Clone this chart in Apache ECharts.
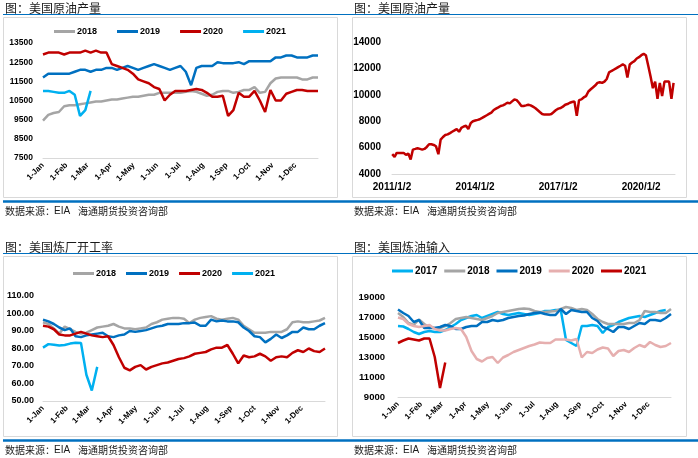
<!DOCTYPE html>
<html>
<head>
<meta charset="utf-8">
<script src="https://cdn.jsdelivr.net/npm/echarts@6/dist/echarts.min.js"></script>
<style>
html, body { margin: 0; padding: 0; background: #fff; width: 698px; height: 458px; overflow: hidden; }
.p { position: absolute; width: 349px; height: 219px; }
</style>
</head>
<body>
<div id="c1" class="p" style="left:0;top:0"></div>
<div id="c2" class="p" style="left:349px;top:0"></div>
<div id="c3" class="p" style="left:0;top:239px"></div>
<div id="c4" class="p" style="left:349px;top:239px"></div>
<script>
'use strict';

// x axis of the weekly charts: day of year
const monthDays = [0, 31, 59, 90, 120, 151, 181, 212, 243, 273, 304, 334];
const monthLabels = ['1-Jan', '1-Feb', '1-Mar', '1-Apr', '1-May', '1-Jun', '1-Jul', '1-Aug', '1-Sep', '1-Oct', '1-Nov', '1-Dec'];

// 美国原油产量 weekly (kb/d)
const prod2018 = [9450, 9750, 9850, 9900, 10200, 10250, 10250, 10300, 10350, 10400,
  10450, 10450, 10500, 10550, 10550, 10600, 10650, 10700, 10700, 10750,
  10800, 10800, 10900, 10900, 10900, 10900, 10900, 10950, 11000, 10950,
  10850, 10750, 10800, 10950, 11000, 11000, 10900, 10950, 11050, 11050,
  11200, 10900, 10950, 11400, 11650, 11700, 11700, 11700, 11700, 11600,
  11600, 11700, 11700];
const prod2019 = [11700, 11900, 11900, 11900, 11900, 11900, 12000, 12100, 12100, 12000,
  12100, 12100, 12200, 12200, 12100, 12200, 12300, 12200, 12100, 12200,
  12300, 12400, 12300, 12200, 12100, 12200, 12300, 12000, 11300, 12200,
  12300, 12300, 12300, 12500, 12450, 12450, 12450, 12500, 12400, 12550,
  12550, 12550, 12550, 12550, 12750, 12750, 12850, 12850, 12750, 12750,
  12750, 12850, 12850];
const prod2020 = [12900, 13000, 13000, 13000, 12900, 13000, 13000, 13000, 13100, 13000,
  13100, 13000, 13000, 12400, 12300, 12200, 12100, 11900, 11600, 11500,
  11400, 11200, 11100, 10500, 10800, 11000, 11000, 11000, 11050, 11100,
  11050, 10900, 10700, 10700, 10750, 9700, 10000, 10900, 10700, 10700,
  11000, 10500, 9900, 11050, 10500, 10500, 10850, 10950, 11050, 11050,
  11000, 11000, 11000];
const prod2021 = [11000, 11000, 10950, 10900, 10900, 11000, 10800, 9700, 10000, 11000];

// 美国原油产量 long history, monthly readings
const us2011 = [5500, 5300, 5600, 5600, 5600, 5600, 5450, 5550, 5100, 5850, 5900, 5950];
const us2012 = [5900, 5850, 5900, 6050, 6250, 6250, 6200, 6100, 5500, 6600, 6800, 6950];
const us2013 = [7000, 7100, 7200, 7300, 7400, 7200, 7500, 7600, 7650, 7400, 7850, 8000];
const us2014 = [8050, 8100, 8150, 8250, 8350, 8450, 8550, 8650, 8850, 8950, 9050, 9150];
const us2015 = [9200, 9300, 9400, 9350, 9500, 9650, 9600, 9400, 9150, 9150, 9200, 9250];
const us2016 = [9200, 9100, 9000, 8850, 8700, 8550, 8500, 8500, 8500, 8550, 8700, 8850];
const us2017 = [8950, 9000, 9100, 9250, 9300, 9400, 9450, 9500, 8400, 9600, 9650, 9800];
const us2018 = [9900, 10250, 10400, 10550, 10700, 10900, 10950, 10900, 11000, 11200, 11700, 11800];
const us2019 = [11900, 12000, 12100, 12200, 12300, 12200, 11300, 12300, 12450, 12550, 12750, 12850];
const us2020 = [13000, 13100, 13000, 12200, 11400, 10500, 11000, 9700, 10900, 9900, 11000, 11000];
const us2021 = [11000, 9700, 10900];
const usYears = [us2011, us2012, us2013, us2014, us2015, us2016, us2017, us2018, us2019, us2020, us2021];
const usTickYears = [2011, 2014, 2017, 2020];

// 美国炼厂开工率 weekly (%)
const util2018 = [95, 94, 91.5, 88.5, 92.5, 91, 89.5, 88.5, 89, 90.5,
  92, 92.5, 93, 94, 92.5, 91.5, 91.5, 91, 91.5, 92,
  94, 95, 96.5, 97, 97.5, 97.5, 97, 94.5, 96.5, 97.5,
  98, 98.5, 97, 96.5, 97, 97.5, 96.5, 93, 91, 89,
  89, 89, 89.5, 89.5, 89.5, 91, 95, 95.5, 95, 95,
  95.5, 96, 97.5];
const util2019 = [96.5, 95.5, 94, 92, 90.5, 91.5, 87, 86.5, 87.5, 88,
  88.5, 89, 87, 86.5, 87.5, 88, 90, 89.5, 90, 90.5,
  91.5, 92.5, 93, 94, 94, 94, 94.5, 94.5, 94.8, 93,
  93, 96.5, 95.5, 96, 95.5, 95.5, 95, 92, 90, 87,
  86.5, 83.5, 85.5, 88, 86, 87.5, 89.5, 89.5, 92, 91,
  91, 93, 94.5];
const util2020 = [93, 92.5, 91, 88, 87.5, 87.5, 88.5, 89.5, 88.5, 87.5,
  87, 86.5, 87, 82, 75, 69, 67.5, 69.5, 70.5, 68,
  69.5, 70.5, 71.5, 72, 73, 74, 74.5, 75.5, 77, 77.5,
  78, 79.5, 80.5, 80.5, 82, 77, 71.5, 76, 75, 75.5,
  77, 75.5, 73, 75, 75.5, 75, 77.5, 79, 78, 80,
  78.5, 78, 80];
const util2021 = [80.5, 82.5, 82.2, 81.7, 82, 82.8, 83.3, 83.2, 65, 56, 69.5];

// 美国炼油输入 weekly (kb/d)
const in2017 = [16100, 16050, 15800, 15500, 15300, 15500, 15600, 15500, 15500, 15700,
  16000, 16300, 16700, 16900, 17100, 17200, 16900, 17100, 17300, 17500,
  17300, 17200, 17300, 17400, 17300, 17200, 17300, 17400, 17600, 17600,
  17700, 17700, 14700, 14400, 14100, 16100, 16100, 16200, 16100, 15400,
  16000, 16200, 16500, 16700, 16900, 17000, 17100, 17000, 17200, 17400,
  17600, 17700];
const in2018 = [17400, 17000, 16400, 16200, 16750, 16300, 16000, 15900, 15900, 16100,
  16400, 16800, 16900, 17000, 16900, 16800, 16700, 16900, 17100, 17400,
  17500, 17600, 17700, 17800, 17850, 17800, 17600, 17500, 17500, 17550,
  17600, 17800, 18000, 17900, 17700, 17800, 17700, 17300, 16800, 16500,
  16300, 16300, 16300, 16300, 16400, 16400, 16700, 17600, 17500, 17500,
  17400, 17400, 17800];
const in2019 = [17750, 17400, 17100, 16500, 16700, 15900, 15900, 15900, 16000, 16200,
  16100, 15800, 15800, 16000, 16100, 16100, 16500, 16500, 16700, 16600,
  16700, 16900, 17000, 17100, 17150, 17300, 17400, 17450, 17300, 17200,
  17200, 17800, 17300, 17700, 17600, 17500, 17500, 16900, 16600, 16000,
  15800, 15500, 16000, 16000, 15800, 16100, 16400, 16300, 16700, 16700,
  16600, 16900, 17300];
const in2020 = [16950, 16800, 16300, 16100, 16000, 16100, 16200, 15800, 15650, 15650,
  15800, 15900, 15800, 15000, 13600, 12800, 12550, 12900, 13000, 12400,
  12950, 13200, 13500, 13700, 13900, 14100, 14250, 14450, 14400, 14400,
  14750, 14750, 14750, 14650, 14800, 12950, 13500, 13400, 13750, 13950,
  13850, 13100, 13600, 13700, 13500, 13900, 14200, 14000, 14500, 14200,
  14000, 14100, 14400];
const in2021 = [14400, 14650, 14850, 14750, 14650, 14850, 14850, 13000, 9900, 12450];

const C_GRAY = '#A5A5A5', C_BLUE = '#0070C0', C_RED = '#C00000', C_SKY = '#00B0F0', C_PINK = '#E6AFAF';
const latin = 'Liberation Sans';
const cjk = '"Noto Sans CJK SC"';

function weekly(values) {
    return values.map((v, i) => [i * 7, v]);
}

function line(name, data, color) {
    return {
        name: name, type: 'line', data: data, symbol: 'none',
        lineStyle: { width: 2.5, color: color }, itemStyle: { color: color }
    };
}

function frame(title, lineStart) {
    let txt = (x, y, text, size, family) => ({
        type: 'text', x: x, y: y, silent: true,
        style: { text: text, fontSize: size, fontFamily: family, fill: '#1a1a1a', verticalAlign: 'middle' }
    });
    return [
        txt(5, 8, title, 12, cjk),
        { type: 'line', silent: true, shape: { x1: lineStart, y1: 14.5, x2: 349, y2: 14.5 }, style: { stroke: C_BLUE, lineWidth: 1 } },
        { type: 'rect', silent: true, shape: { x: 3.5, y: 17.5, width: 334, height: 180 }, style: { fill: 'none', stroke: '#D9D9D9', lineWidth: 1 } },
        { type: 'line', silent: true, shape: { x1: lineStart, y1: 201.5, x2: 349, y2: 201.5 }, style: { stroke: C_BLUE, lineWidth: 2.5 } },
        txt(5, 211, '数据来源：', 10, cjk),
        txt(54, 211, 'EIA', 10, latin),
        txt(78, 211, '海通期货投资咨询部', 10, cjk)
    ];
}

function legend(left, top, gap, size) {
    return {
        left: left, top: top, padding: 0, icon: 'rect', itemWidth: 21, itemHeight: 3, itemGap: gap,
        textStyle: { fontSize: size, fontWeight: 'bold', color: '#000', fontFamily: latin, padding: [0, 0, 0, -3] }
    };
}

function weekAxis() {
    return {
        type: 'value', min: 0, max: 364,
        axisLine: { onZero: false, lineStyle: { color: '#D9D9D9', width: 1 } },
        axisTick: { show: false },
        splitLine: { show: false },
        axisLabel: {
            customValues: monthDays, rotate: 45, margin: 6,
            fontSize: 8, fontWeight: 'bold', color: '#000', fontFamily: latin,
            formatter: (v) => monthLabels[monthDays.indexOf(v)]
        }
    };
}

function valueAxis(min, max, ticks, size, margin, fmt) {
    return {
        type: 'value', min: min, max: max,
        axisLine: { show: false }, axisTick: { show: false }, splitLine: { show: false },
        axisLabel: {
            customValues: ticks, margin: margin,
            fontSize: size, fontWeight: 'bold', color: '#000', fontFamily: latin,
            formatter: fmt || ((v) => String(v))
        }
    };
}

function chart(id, option) {
    let instance = echarts.init(document.getElementById(id));
    option.animation = false;
    instance.setOption(option);
    return instance;
}

// 1. 美国原油产量 (weekly by year)
chart('c1', {
    graphic: frame('图：美国原油产量', 3),
    legend: legend(54, 27, 20, 9),
    grid: { left: 43, right: 31, top: 43, bottom: 61 },
    xAxis: weekAxis(),
    yAxis: valueAxis(7500, 13500, [7500, 8500, 9500, 10500, 11500, 12500, 13500], 8.5, 10),
    series: [
        line('2018', weekly(prod2018), C_GRAY),
        line('2019', weekly(prod2019), C_BLUE),
        line('2020', weekly(prod2020), C_RED),
        line('2021', weekly(prod2021), C_SKY)
    ]
});

// 2. 美国原油产量 (history), x as timestamps on a value axis
let usData = [];
usYears.forEach((vals, y) => {
    vals.forEach((v, m) => {
        usData.push([new Date(2011 + y, m, 5).getTime(), v]);
    });
});
const usTicks = usTickYears.map((y) => new Date(y, 0, 2).getTime());
chart('c2', {
    graphic: frame('图：美国原油产量', 0),
    grid: { left: 43, right: 23, top: 42, bottom: 45 },
    xAxis: {
        type: 'value', min: usTicks[0], max: new Date(2021, 2, 24).getTime(),
        axisLine: { onZero: false, lineStyle: { color: '#D9D9D9', width: 1 } },
        axisTick: { show: false },
        splitLine: { show: false },
        axisLabel: {
            customValues: usTicks, margin: 8,
            fontSize: 10, fontWeight: 'bold', color: '#000', fontFamily: latin,
            formatter: (v) => {
                let d = new Date(v);
                return d.getFullYear() + '/' + (d.getMonth() + 1) + '/' + d.getDate();
            }
        }
    },
    yAxis: valueAxis(4000, 14000, [4000, 6000, 8000, 10000, 12000, 14000], 10, 11),
    series: [line('产量', usData, C_RED)]
});

// 3. 美国炼厂开工率
chart('c3', {
    graphic: frame('图：美国炼厂开工率', 3),
    legend: legend(73, 30, 10, 9),
    grid: { left: 43, right: 24, top: 57, bottom: 57 },
    xAxis: weekAxis(),
    yAxis: valueAxis(50, 110, [50, 60, 70, 80, 90, 100, 110], 9, 9, (v) => v.toFixed(2)),
    series: [
        line('2018', weekly(util2018), C_GRAY),
        line('2019', weekly(util2019), C_BLUE),
        line('2020', weekly(util2020), C_RED),
        line('2021', weekly(util2021), C_SKY)
    ]
});

// 4. 美国炼油输入
chart('c4', {
    graphic: frame('图：美国炼油输入', 0),
    legend: legend(43, 27, 7, 10),
    grid: { left: 49, right: 27, top: 58, bottom: 61 },
    xAxis: weekAxis(),
    yAxis: valueAxis(9000, 19000, [9000, 11000, 13000, 15000, 17000, 19000], 9.5, 13),
    series: [
        line('2017', weekly(in2017), C_SKY),
        line('2018', weekly(in2018), C_GRAY),
        line('2019', weekly(in2019), C_BLUE),
        line('2020', weekly(in2020), C_PINK),
        line('2021', weekly(in2021), C_RED)
    ]
});
</script>
</body>
</html>
